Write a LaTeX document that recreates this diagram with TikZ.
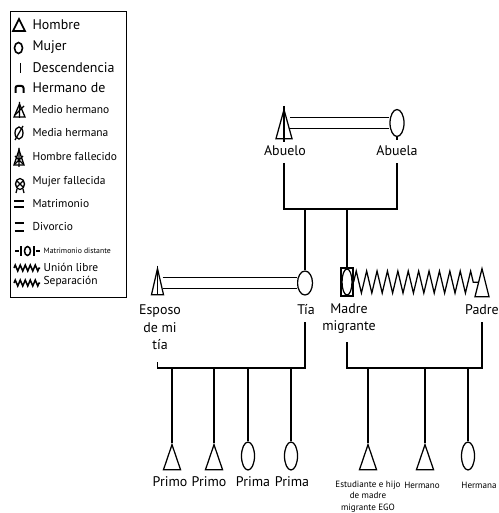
\documentclass[tikz,border=0pt]{standalone}
\usepackage{fontspec}
\setmainfont{PT Sans}
\usetikzlibrary{calc,shapes.geometric,decorations.pathmorphing}
\newcommand{\fbig}{\fontsize{14}{17.5}\selectfont}
\newcommand{\fmid}{\fontsize{11.5}{14}\selectfont}
\newcommand{\fsmall}{\fontsize{9.1}{11.5}\selectfont}
\newcommand{\ftiny}{\fontsize{7.8}{9}\selectfont}

\begin{document}
\begin{tikzpicture}[x=1bp,y=-1bp,line width=1.25bp,
  hombre/.style={draw,isosceles triangle,isosceles triangle stretches,
    shape border rotate=90,inner sep=0pt,anchor=apex},
  mujer/.style={draw,ellipse,inner sep=0pt},
  matri/.style={double,double distance=9.3bp},
  lab/.style={font=\fbig,align=center,inner sep=0pt},
  leg/.style={anchor=west,inner sep=0pt}]
\useasboundingbox (0,0) rectangle (499,513);

% legend box
\draw[line width=1bp] (10,12) rectangle (126,297);
\foreach \ly/\ltxt in {25/Hombre,47/Mujer,68/Descendencia,88/Hermano de}
  \node[leg,font=\fbig] (leg\ly) at (32,\ly) {\ltxt};
\foreach \ly/\ltxt in {110/Medio hermano,133/Media hermana,157/Hombre fallecido,
    182/Mujer fallecida,204/Matrimonio,227/Divorcio}
  \node[leg,font=\fmid] (leg\ly) at (32,\ly) {\ltxt};
\node[leg,font=\ftiny] (leg251) at (43,251) {Matrimonio distante};
\foreach \ly/\ltxt in {267/Unión libre,282/Separación}
  \node[leg,font=\fmid] (leg\ly) at (43,\ly) {\ltxt};

% legend symbols
\begin{scope}[line width=1.6bp]
\draw (13,31) -- (19,19) -- (25,31) -- cycle;
\draw (18.5,48) ellipse (4bp and 5.5bp);
\draw (20.5,63) -- (20.5,73);
\draw[line width=2bp,rounded corners=2bp] (15.5,93) -- (15.5,86) -- (23.5,86) -- (23.5,93);
\end{scope}
\begin{scope}[line width=1.3bp]
\draw (14,117) -- (19.5,104) -- (25,117) -- cycle;
\draw (19.5,102) -- (19.5,118) (15,115) -- (24,106);
\draw (19,133) ellipse (4bp and 6bp);
\draw (15,140) -- (23,126);
\draw (14,165) -- (19,150) -- (24,165) -- cycle;
\draw (19,148) -- (19,167) (15,156) -- (23,164) (23,156) -- (15,164);
\draw (20,184) ellipse (4.5bp and 5.5bp);
\draw (16.5,180.5) -- (23.5,187.5) (23.5,180.5) -- (16.5,187.5);
\draw (17,189) -- (16,193) (23,189) -- (24,193);
\draw[line width=1.5bp] (14,201) -- (24,201) (14,207) -- (24,207);
\draw[line width=2.6bp] (14.5,223) -- (24,223) (14.5,231) -- (24,231);
\draw[line width=1.5bp] (15,251) -- (19,251) (21,246) -- (21,256)
  (34,246) -- (34,256) (36,251) -- (40,251);
\draw[line width=1.5bp] (27.5,251) ellipse (3bp and 4.5bp);
\draw[line width=1.5bp,decorate,decoration={zigzag,segment length=5bp,amplitude=3bp}]
  (14,268) -- (40,268);
\draw[line width=1.5bp,decorate,decoration={zigzag,segment length=5bp,amplitude=3bp}]
  (14,283) -- (40,283);
\end{scope}

% grandparents
\node[hombre,minimum width=16bp,minimum height=29bp] (abuelo) at (284,108) {};
\node[mujer,minimum width=14bp,minimum height=27bp] (abuela) at (397,123) {};
\node[lab] (lAbuelo) at (285,151) {Abuelo};
\node[lab] (lAbuela) at (397,151) {Abuela};
\draw[matri] ($(abuelo.apex |- abuela.center)+(6,0)$) -- (abuela.west);
\draw ($(abuelo.apex)+(0,-2)$) -- ($(abuelo.apex)+(0,34)$);
\draw (abuela.south) -- ++(0,3);

% parents
\node[hombre,minimum width=12bp,minimum height=26bp] (esposo) at (157.5,267) {};
\node[mujer,minimum width=15bp,minimum height=24bp] (tia) at (305,283) {};
\node[draw,minimum width=12bp,minimum height=28bp,inner sep=0pt] (madre) at (347,282) {};
\node[mujer,minimum width=10bp,minimum height=26bp] (madreE) at (madre) {};
\node[hombre,minimum width=14bp,minimum height=28bp] (padre) at (482,267) {};
\node[lab] (lEsposo) at (160,327.5) {Esposo\\de mi\\tía};
\node[lab] (lTia) at (306,310) {Tía};
\node[lab] (lMadre) at (349,318.5) {Madre\\migrante};
\node[lab] (lPadre) at (482,310) {Padre};
\draw[matri] ($(esposo.apex |- tia.center)+(5,0)$) -- (tia.west);
\draw ($(esposo.apex)+(0,-1)$) -- ($(esposo.apex)+(0,28)$);
\draw[decorate,decoration={zigzag,segment length=10.4bp,amplitude=11bp}]
  (madre.east) -- (padre.left side);
\foreach \cn in {north west,north east,south west,south east}
  \draw[line width=0.8bp] (madre.\cn) -- ($(madre.\cn)!2.5bp!(madre.center)$);

% descent lines
\coordinate (g1) at (0,209);
\coordinate (g2) at (0,368);
\draw (abuelo.apex |- 0,163) |- (abuela |- g1) -- (abuela |- 0,163);
\draw (tia |- g1) -- (tia.north);
\draw (madre |- g1) -- (madre.north);
\draw (esposo.apex |- 0,362) |- (tia |- g2) -- (tia |- 0,322);
\draw (madre |- 0,342) |- (padre.apex |- g2) -- (padre.apex |- 0,322);

% children
\foreach \nm/\xx in {primoA/172,primoB/214,ego/368,hermano/425}
  \node[hombre,minimum width=17bp,minimum height=25bp] (\nm) at (\xx,443) {};
\foreach \nm/\xx in {primaA/248,primaB/291,hermana/468}
  \node[mujer,minimum width=13bp,minimum height=28bp] (\nm) at (\xx,456) {};
\foreach \nm in {primoA,primoB,ego,hermano}
  \draw (\nm.apex) -- (\nm.apex |- g2);
\foreach \nm in {primaA,primaB,hermana}
  \draw (\nm.north) -- (\nm |- g2);
\foreach \nm/\xx/\ltxt in {primoA/170/Primo,primoB/209/Primo,primaA/253/Prima,primaB/292/Prima}
  \node[lab] (l\nm) at (\xx,482) {\ltxt};
\node[lab,font=\fsmall,align=center] (lego) at (368,496.5) {Estudiante e hijo\\de madre\\migrante EGO};
\node[lab,font=\fsmall] (lhermano) at (422,485) {Hermano};
\node[lab,font=\fsmall] (lhermana) at (479,485) {Hermana};

\end{tikzpicture}
\end{document}
